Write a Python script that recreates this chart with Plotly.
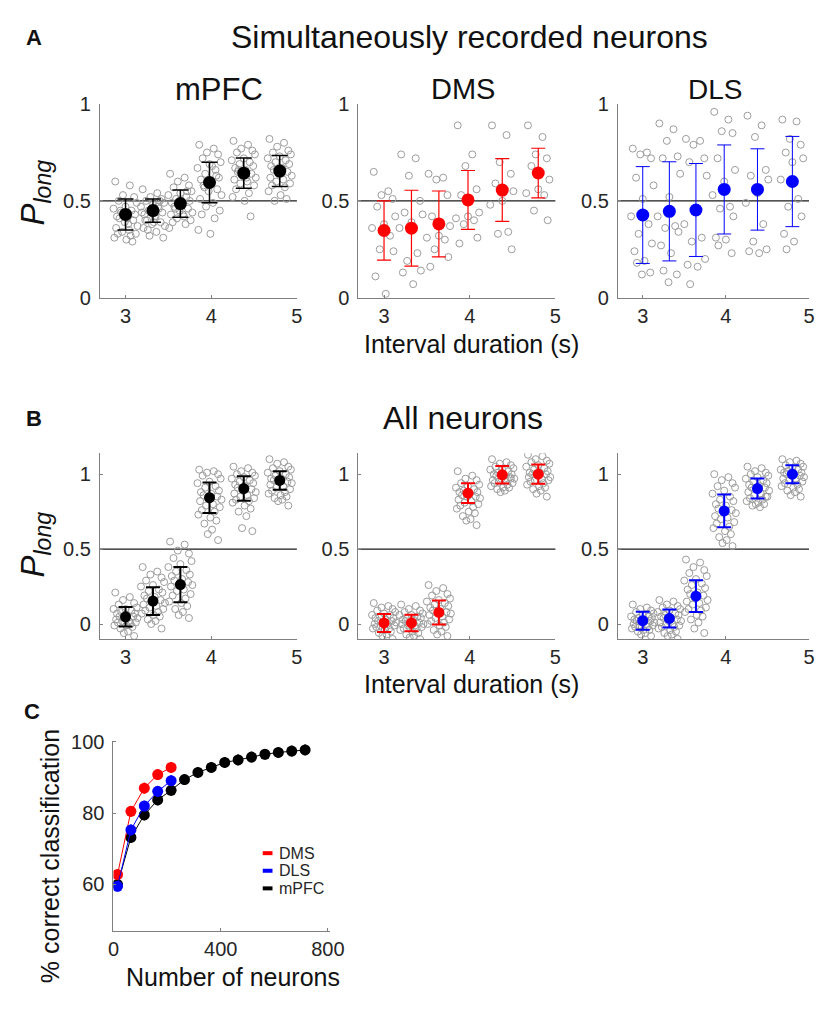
import plotly.graph_objects as go

# The html page adds an 8px body margin on every side; the figure is sized so
# that figure + margins fill the 831x1012 window exactly.
PAGE_W, PAGE_H = 831, 1012
OFF = 8
W, H = PAGE_W - 2 * OFF, PAGE_H - 2 * OFF
FONT = "Liberation Sans, Arial, sans-serif"

# ---------------- data ----------------
intervals = [3.0, 3.32, 3.64, 3.98, 4.38, 4.8]
jitter = [-0.12, 0.05, -0.03, 0.10, -0.08, 0.13, 0.00, -0.14, 0.07, -0.05,
          0.11, -0.10, 0.02, -0.07, 0.09, -0.01, 0.14, -0.11, 0.04, -0.04,
          0.12, -0.09, 0.06, -0.13, 0.01, 0.08, -0.06, 0.03, -0.02, 0.10]

# Panel A: simultaneously recorded neurons
a_mpfc_mean = [0.43, 0.45, 0.486, 0.595, 0.643, 0.654]
a_mpfc_err = [0.08, 0.06, 0.07, 0.105, 0.078, 0.08]
a_dms_mean = [0.347, 0.359, 0.381, 0.505, 0.556, 0.644]
a_dms_err = [0.153, 0.196, 0.17, 0.152, 0.162, 0.128]
a_dls_mean = [0.427, 0.446, 0.453, 0.559, 0.559, 0.60]
a_dls_err = [0.25, 0.256, 0.24, 0.23, 0.21, 0.233]

a_mpfc_pts = [
    [0.60, 0.58, 0.53, 0.52, 0.50, 0.49, 0.47, 0.46, 0.45, 0.44, 0.43, 0.42, 0.41, 0.41,
     0.40, 0.39, 0.37, 0.36, 0.35, 0.34, 0.33, 0.33, 0.32, 0.31, 0.30, 0.29, 0.45, 0.38],
    [0.56, 0.54, 0.52, 0.51, 0.50, 0.49, 0.48, 0.47, 0.46, 0.45, 0.44, 0.43, 0.42, 0.40,
     0.39, 0.38, 0.37, 0.36, 0.34, 0.32, 0.31, 0.40, 0.47, 0.44, 0.39, 0.50, 0.35, 0.42],
    [0.64, 0.62, 0.60, 0.58, 0.57, 0.55, 0.54, 0.53, 0.52, 0.51, 0.50, 0.49, 0.48, 0.47,
     0.46, 0.45, 0.44, 0.43, 0.42, 0.41, 0.40, 0.39, 0.38, 0.36, 0.50, 0.55, 0.46, 0.43],
    [0.79, 0.77, 0.75, 0.74, 0.72, 0.70, 0.69, 0.67, 0.66, 0.64, 0.62, 0.61, 0.60, 0.58,
     0.56, 0.55, 0.53, 0.51, 0.49, 0.47, 0.45, 0.43, 0.41, 0.35, 0.33, 0.63, 0.57, 0.68],
    [0.81, 0.79, 0.77, 0.76, 0.75, 0.74, 0.72, 0.71, 0.70, 0.69, 0.68, 0.67, 0.66, 0.65,
     0.64, 0.63, 0.62, 0.61, 0.60, 0.59, 0.58, 0.56, 0.54, 0.52, 0.50, 0.42, 0.66, 0.62],
    [0.82, 0.80, 0.78, 0.76, 0.75, 0.74, 0.73, 0.72, 0.71, 0.70, 0.69, 0.68, 0.67, 0.66,
     0.65, 0.64, 0.63, 0.62, 0.61, 0.60, 0.59, 0.58, 0.57, 0.55, 0.53, 0.51, 0.50, 0.67],
]
a_dms_pts = [
    [0.65, 0.55, 0.53, 0.51, 0.47, 0.42, 0.38, 0.36, 0.32, 0.25, 0.24, 0.11, 0.02],
    [0.74, 0.72, 0.63, 0.50, 0.44, 0.43, 0.39, 0.36, 0.23, 0.19, 0.14, 0.13, 0.07],
    [0.64, 0.62, 0.61, 0.53, 0.42, 0.37, 0.32, 0.31, 0.30, 0.25, 0.21, 0.16],
    [0.89, 0.74, 0.68, 0.56, 0.53, 0.44, 0.42, 0.41, 0.40, 0.38, 0.31, 0.28],
    [0.89, 0.84, 0.70, 0.64, 0.59, 0.55, 0.50, 0.48, 0.34, 0.33, 0.25],
    [0.89, 0.83, 0.74, 0.72, 0.68, 0.61, 0.56, 0.54, 0.53, 0.45, 0.40],
]
a_dls_pts = [
    [0.77, 0.75, 0.74, 0.72, 0.62, 0.58, 0.51, 0.42, 0.38, 0.33, 0.28, 0.24, 0.19, 0.18, 0.13, 0.12],
    [0.90, 0.87, 0.81, 0.73, 0.72, 0.64, 0.52, 0.42, 0.37, 0.36, 0.34, 0.27, 0.23, 0.14, 0.12, 0.08],
    [0.82, 0.81, 0.79, 0.72, 0.70, 0.63, 0.45, 0.38, 0.31, 0.29, 0.20, 0.17, 0.16, 0.07],
    [0.96, 0.92, 0.86, 0.85, 0.72, 0.66, 0.60, 0.53, 0.47, 0.46, 0.42, 0.31, 0.30, 0.27, 0.23],
    [0.94, 0.89, 0.83, 0.66, 0.63, 0.61, 0.54, 0.49, 0.38, 0.29, 0.25, 0.24, 0.23],
    [0.92, 0.91, 0.82, 0.79, 0.75, 0.72, 0.70, 0.61, 0.51, 0.47, 0.42, 0.33, 0.29, 0.25],
]

# Panel B: all neurons
b_mpfc_mean = [0.048, 0.153, 0.263, 0.843, 0.904, 0.958]
b_mpfc_err = [0.065, 0.093, 0.117, 0.102, 0.082, 0.062]
b_dms_mean = [0.007, 0.007, 0.077, 0.873, 0.996, 1.0]
b_dms_err = [0.06, 0.055, 0.08, 0.066, 0.058, 0.064]
b_dls_mean = [0.022, 0.037, 0.186, 0.755, 0.904, 1.0]
b_dls_err = [0.06, 0.06, 0.106, 0.11, 0.067, 0.06]

b_mpfc_pts = [
    [0.21, 0.18, 0.16, 0.14, 0.13, 0.11, 0.10, 0.10, 0.09, 0.08, 0.07, 0.07, 0.06, 0.05, 0.05,
     0.04, 0.04, 0.03, 0.02, 0.02, 0.01, 0.01, 0.00, -0.01, -0.01, -0.02, -0.03, -0.05, -0.06, -0.08],
    [0.38, 0.35, 0.33, 0.31, 0.29, 0.28, 0.26, 0.25, 0.23, 0.22, 0.21, 0.19, 0.18, 0.17, 0.16,
     0.15, 0.14, 0.13, 0.12, 0.11, 0.10, 0.09, 0.08, 0.07, 0.06, 0.05, 0.03, 0.02, 0.00, -0.03],
    [0.55, 0.53, 0.49, 0.47, 0.44, 0.42, 0.40, 0.38, 0.36, 0.35, 0.33, 0.32, 0.30, 0.29, 0.28,
     0.27, 0.26, 0.25, 0.23, 0.22, 0.20, 0.19, 0.17, 0.15, 0.14, 0.12, 0.10, 0.08, 0.06, 0.04],
    [1.03, 1.02, 1.01, 1.00, 0.99, 0.97, 0.95, 0.94, 0.92, 0.91, 0.89, 0.88, 0.87, 0.86, 0.85,
     0.84, 0.83, 0.82, 0.80, 0.79, 0.78, 0.76, 0.75, 0.73, 0.71, 0.69, 0.67, 0.63, 0.60, 0.56],
    [1.05, 1.04, 1.02, 1.01, 1.00, 0.99, 0.98, 0.97, 0.96, 0.95, 0.94, 0.93, 0.92, 0.91, 0.90,
     0.89, 0.88, 0.87, 0.86, 0.85, 0.84, 0.83, 0.82, 0.81, 0.79, 0.77, 0.75, 0.72, 0.64, 0.62],
    [1.10, 1.08, 1.07, 1.05, 1.04, 1.03, 1.02, 1.01, 1.00, 0.99, 0.98, 0.97, 0.97, 0.96, 0.95,
     0.95, 0.94, 0.93, 0.92, 0.91, 0.90, 0.89, 0.88, 0.87, 0.86, 0.85, 0.84, 0.83, 0.82, 0.79],
]
b_dms_pts = [
    [0.14, 0.12, 0.11, 0.10, 0.09, 0.08, 0.07, 0.06, 0.06, 0.05, 0.04, 0.04, 0.03, 0.02, 0.02,
     0.01, 0.01, 0.00, 0.00, -0.01, -0.01, -0.02, -0.03, -0.03, -0.04, -0.05, -0.06, -0.07, -0.08, -0.10],
    [0.13, 0.12, 0.10, 0.09, 0.08, 0.07, 0.06, 0.06, 0.05, 0.04, 0.04, 0.03, 0.03, 0.02, 0.01,
     0.01, 0.00, 0.00, -0.01, -0.01, -0.02, -0.03, -0.03, -0.04, -0.05, -0.06, -0.07, -0.08, -0.09, -0.10],
    [0.26, 0.24, 0.22, 0.20, 0.19, 0.17, 0.16, 0.15, 0.14, 0.13, 0.12, 0.11, 0.10, 0.09, 0.08,
     0.08, 0.07, 0.06, 0.05, 0.04, 0.03, 0.02, 0.01, 0.00, -0.01, -0.02, -0.04, -0.05, -0.07, -0.08],
    [1.02, 0.99, 0.97, 0.96, 0.94, 0.93, 0.92, 0.91, 0.90, 0.89, 0.88, 0.88, 0.87, 0.86, 0.85,
     0.85, 0.84, 0.83, 0.82, 0.81, 0.80, 0.79, 0.78, 0.77, 0.75, 0.74, 0.72, 0.70, 0.69, 0.66],
    [1.10, 1.08, 1.07, 1.06, 1.05, 1.04, 1.03, 1.03, 1.02, 1.01, 1.00, 1.00, 0.99, 0.99, 0.98,
     0.97, 0.97, 0.96, 0.96, 0.95, 0.94, 0.94, 0.93, 0.92, 0.91, 0.91, 0.90, 0.89, 0.88, 0.97],
    [1.13, 1.12, 1.10, 1.09, 1.08, 1.07, 1.06, 1.05, 1.04, 1.03, 1.02, 1.01, 1.01, 1.00, 1.00,
     0.99, 0.98, 0.98, 0.97, 0.96, 0.96, 0.95, 0.94, 0.93, 0.92, 0.91, 0.90, 0.89, 0.87, 0.85],
]
b_dls_pts = [
    [0.13, 0.11, 0.10, 0.09, 0.08, 0.07, 0.06, 0.05, 0.05, 0.04, 0.04, 0.03, 0.03, 0.02, 0.02,
     0.01, 0.01, 0.00, 0.00, -0.01, -0.01, -0.02, -0.02, -0.03, -0.04, -0.04, -0.05, -0.06, -0.07, -0.08],
    [0.16, 0.15, 0.13, 0.12, 0.11, 0.10, 0.09, 0.08, 0.07, 0.06, 0.06, 0.05, 0.04, 0.04, 0.03,
     0.02, 0.02, 0.01, 0.00, 0.00, -0.01, -0.02, -0.02, -0.03, -0.04, -0.05, -0.06, -0.07, -0.08, -0.10],
    [0.43, 0.41, 0.38, 0.36, 0.34, 0.32, 0.30, 0.29, 0.27, 0.26, 0.24, 0.23, 0.21, 0.20, 0.19,
     0.17, 0.16, 0.15, 0.14, 0.13, 0.11, 0.10, 0.09, 0.08, 0.06, 0.05, 0.03, 0.01, -0.03, -0.06],
    [1.00, 0.98, 0.96, 0.94, 0.92, 0.91, 0.89, 0.87, 0.85, 0.83, 0.82, 0.80, 0.79, 0.77, 0.76,
     0.75, 0.74, 0.72, 0.71, 0.70, 0.68, 0.67, 0.65, 0.64, 0.62, 0.60, 0.58, 0.56, 0.54, 0.52],
    [1.05, 1.04, 1.02, 1.01, 1.00, 0.99, 0.98, 0.97, 0.96, 0.95, 0.94, 0.93, 0.92, 0.91, 0.91,
     0.90, 0.89, 0.88, 0.87, 0.86, 0.85, 0.84, 0.83, 0.82, 0.81, 0.80, 0.79, 0.78, 0.80, 0.85],
    [1.10, 1.09, 1.08, 1.07, 1.06, 1.05, 1.04, 1.03, 1.03, 1.02, 1.01, 1.01, 1.00, 1.00, 0.99,
     0.99, 0.98, 0.97, 0.97, 0.96, 0.95, 0.94, 0.93, 0.92, 0.91, 0.90, 0.89, 0.88, 0.86, 0.85],
]

# Panel C: decoding accuracy
c_mpfc_n = [15, 65, 115, 165, 215, 265, 315, 365, 415, 465, 515, 565, 615, 665, 715]
c_mpfc_acc = [60, 73.2, 79.5, 83.7, 86.4, 89.4, 91.4, 92.8, 94.2, 94.9, 95.7, 96.5, 97.0, 97.4, 97.7]
c_dms_n = [15, 65, 115, 165, 215]
c_dms_acc = [62.8, 80.5, 87.0, 90.8, 92.8]
c_dls_n = [15, 65, 115, 165, 215]
c_dls_acc = [59.5, 75.3, 82.0, 86.1, 89.1]
c_err = [1.5] * 15

RED, BLUE, BLACK = "#ff0000", "#0000ff", "#000000"
GRAY_PT = "#9c9c9c"
AXCOL = "#7f7f7f"
TXT = "#262626"

# ---------------- layout helpers (positions given in window pixels) ----------------
def fx(p):
    return min(1.0, max(0.0, (p - OFF) / W))


def fy(p):
    return min(1.0, max(0.0, 1 - (p - OFF) / H))


fig = go.Figure()
layout = {}


def ax_names(i):
    return ("x" if i == 1 else f"x{i}"), ("y" if i == 1 else f"y{i}")


def add_axes(i, xpx, ypx, xr, yr, xt, xtt, yt, ytt):
    xk = "xaxis" if i == 1 else f"xaxis{i}"
    yk = "yaxis" if i == 1 else f"yaxis{i}"
    xa, ya = ax_names(i)
    common = dict(showline=True, linecolor=AXCOL, linewidth=1, mirror=False,
                  showgrid=False, zeroline=False, ticks="inside", ticklen=3,
                  tickcolor=AXCOL, tickwidth=1,
                  tickfont=dict(family=FONT, size=20, color=TXT), fixedrange=True)
    layout[xk] = dict(common, domain=[fx(xpx[0]), fx(xpx[1])], range=xr,
                      tickvals=xt, ticktext=xtt, anchor=ya)
    layout[yk] = dict(common, domain=[fy(ypx[1]), fy(ypx[0])], range=yr,
                      tickvals=yt, ticktext=ytt, anchor=xa, ticklabelstandoff=4)


xcols = [(96, 298), (361, 563), (627, 823)]
A_Y = (95, 293)
B_Y = (452, 642)

shapes = []
panels = [
    (1, xcols[0], A_Y, [0, 1], a_mpfc_pts, a_mpfc_mean, a_mpfc_err, BLACK, 13, 1.5, 8),
    (2, xcols[1], A_Y, [0, 1], a_dms_pts, a_dms_mean, a_dms_err, RED, 13, 1.2, 7),
    (3, xcols[2], A_Y, [0, 1], a_dls_pts, a_dls_mean, a_dls_err, BLUE, 13, 1.0, 7),
    (4, xcols[0], B_Y, [-0.1, 1.14], b_mpfc_pts, b_mpfc_mean, b_mpfc_err, BLACK, 11, 2, 7),
    (5, xcols[1], B_Y, [-0.1, 1.14], b_dms_pts, b_dms_mean, b_dms_err, RED, 11, 2, 7),
    (6, xcols[2], B_Y, [-0.1, 1.14], b_dls_pts, b_dls_mean, b_dls_err, BLUE, 11, 2, 7),
]

for (i, xpx, ypx, yr, pts, means, errs, col, msz, eth, ew) in panels:
    xa, ya = ax_names(i)
    add_axes(i, xpx, ypx, [2.7, 5.0], yr, [3, 4, 5], ["3", "4", "5"],
             [0, 0.5, 1], ["0", "0.5", "1"])
    shapes.append(dict(type="line", xref=f"{xa} domain", yref=ya, x0=0, x1=1,
                       y0=0.5, y1=0.5, line=dict(color="#1a1a1a", width=1.2),
                       layer="below"))
    gx, gy = [], []
    for k, grp in enumerate(pts):
        for j, v in enumerate(grp):
            gx.append(intervals[k] + jitter[j % len(jitter)])
            gy.append(v)
    fig.add_trace(go.Scatter(x=gx, y=gy, mode="markers", xaxis=xa, yaxis=ya,
                             marker=dict(symbol="circle-open", size=7, color=GRAY_PT,
                                         line=dict(width=1, color=GRAY_PT)),
                             showlegend=False, hoverinfo="skip"))
    fig.add_trace(go.Scatter(x=intervals, y=means, mode="markers", xaxis=xa, yaxis=ya,
                             marker=dict(size=msz, color=col),
                             error_y=dict(type="data", array=errs, color=col,
                                          thickness=eth, width=ew),
                             showlegend=False))

# Panel C
add_axes(7, (110, 332), (746, 941), [0, 808], [46.85, 100.3], [0, 400, 800],
         ["0", "400", "800"], [60, 80, 100], ["60", "80", "100"])
for xs, ys, col in [(c_mpfc_n, c_mpfc_acc, BLACK), (c_dms_n, c_dms_acc, RED),
                    (c_dls_n, c_dls_acc, BLUE)]:
    fig.add_trace(go.Scatter(x=xs, y=ys, mode="lines+markers", xaxis="x7", yaxis="y7",
                             line=dict(color=col, width=1),
                             marker=dict(size=11, color=col),
                             error_y=dict(type="data", array=c_err[:len(xs)], color=col,
                                          thickness=2, width=0),
                             showlegend=False))

# legend for C (drawn manually, tight spacing)
leg = [("DMS", RED, 861), ("DLS", BLUE, 879), ("mPFC", BLACK, 897)]
annotations = []
for name, col, ypx in leg:
    shapes.append(dict(type="line", xref="paper", yref="paper", x0=fx(263), x1=fx(273),
                       y0=fy(ypx), y1=fy(ypx), line=dict(color=col, width=4)))
    annotations.append(dict(x=fx(279), y=fy(ypx), xref="paper", yref="paper",
                            text=name, showarrow=False, xanchor="left", yanchor="middle",
                            font=dict(family=FONT, size=16, color=TXT),
                            borderpad=0))


def txt(x, y, s, size, angle=0, xanchor="center"):
    annotations.append(dict(x=fx(x), y=fy(y), xref="paper", yref="paper", text=s,
                            showarrow=False, xanchor=xanchor, yanchor="middle",
                            textangle=angle,
                            font=dict(family=FONT, size=size, color="#111111")))


txt(29, 27, "<b>A</b>", 22)
txt(29, 417, "<b>B</b>", 22)
txt(26, 716, "<b>C</b>", 22)
txt(475, 26, "Simultaneously recorded neurons", 32)
txt(468, 416, "All neurons", 32)
txt(218, 80, "mPFC", 31)
txt(468, 80, "DMS", 29)
txt(727, 80, "DLS", 28)
txt(477, 340, "Interval duration (s)", 25)
txt(477, 688, "Interval duration (s)", 25)
txt(30, 185, "<i>P</i><sub><i>long</i></sub>", 33, angle=-90)
txt(30, 545, "<i>P</i><sub><i>long</i></sub>", 33, angle=-90)
txt(45, 864, "% correct classification", 25, angle=-90)
txt(233, 988, "Number of neurons", 25)

fig.update_layout(**layout)
fig.update_layout(width=W, height=H, margin=dict(l=0, r=0, t=0, b=0),
                  paper_bgcolor="white", plot_bgcolor="white",
                  shapes=shapes, annotations=annotations, showlegend=False,
                  font=dict(family=FONT))
fig.write_html("out.html")
